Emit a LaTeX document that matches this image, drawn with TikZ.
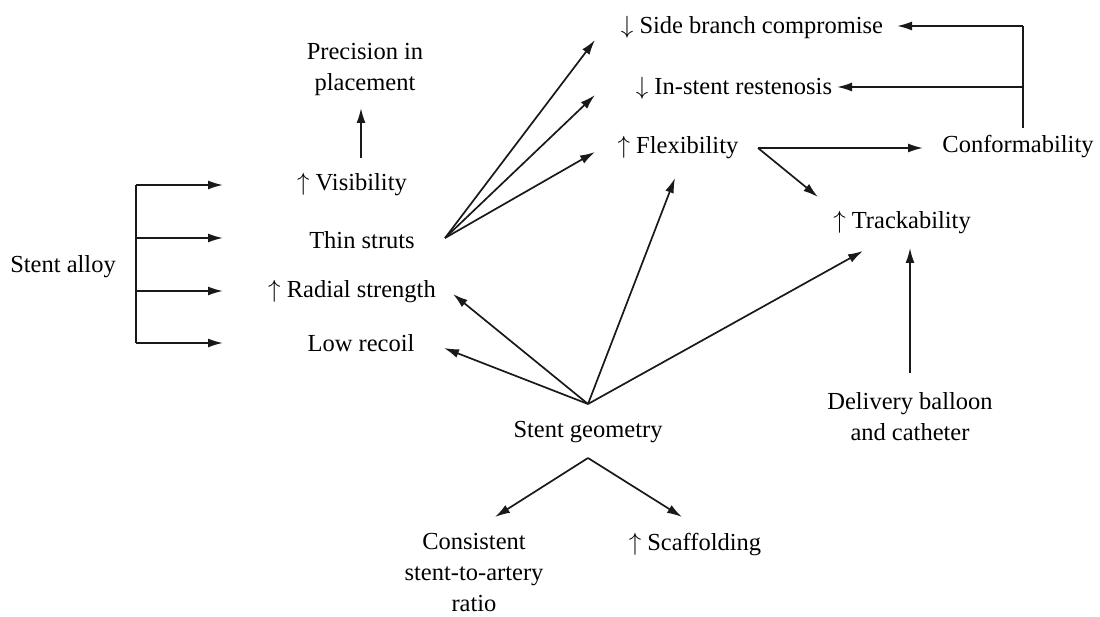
\documentclass[tikz,border=0pt]{standalone}
\usepackage{fontspec}
\setmainfont{Liberation Serif}
\usetikzlibrary{arrows.meta}
\begin{document}
\begin{tikzpicture}[x=1pt,y=-1pt,
  lbl/.style={inner sep=0pt,align=center,font=\fontsize{24.5}{31}\selectfont},
  con/.style={line width=1.7pt,black!90},
  arr/.style={con,-{Latex[length=15pt,width=9pt]}}]
\useasboundingbox (0,0) rectangle (1100,617);
% nodes
\node[lbl] (alloy)   at (63,267)  {Stent alloy};
\node[lbl] (vis)     at (352,185) {$\uparrow$ Visibility};
\node[lbl] (thin)    at (362,240) {Thin struts};
\node[lbl] (radial)  at (352,292) {$\uparrow$ Radial strength};
\node[lbl] (recoil)  at (361,343) {Low recoil};
\node[lbl] (prec)    at (365,70)  {Precision in\\placement};
\node[lbl] (side)    at (752,27)  {$\downarrow$ Side branch compromise};
\node[lbl] (instent) at (734,88)  {$\downarrow$ In-stent restenosis};
\node[lbl] (flex)    at (678,148) {$\uparrow$ Flexibility};
\node[lbl] (conf)    at (1018,147){Conformability};
\node[lbl] (track)   at (902,223) {$\uparrow$ Trackability};
\node[lbl] (deliv)   at (910,417) {Delivery balloon\\and catheter};
\node[lbl] (geom)    at (588,432) {Stent geometry};
\node[lbl] (consist) at (474,573) {Consistent\\stent-to-artery\\ratio};
\node[lbl] (scaff)   at (695,545) {$\uparrow$ Scaffolding};
% coordinates
\coordinate (bA) at (136,185); \coordinate (tA) at (223,185);
\coordinate (bB) at (136,238); \coordinate (tB) at (223,238);
\coordinate (bC) at (136,291); \coordinate (tC) at (223,291);
\coordinate (bD) at (136,343); \coordinate (tD) at (223,343);
\coordinate (visTop) at (361,158); \coordinate (precBot) at (361,108);
\coordinate (thinOut) at (445,238);
\coordinate (sideIn) at (595,40);
\coordinate (instIn) at (595,95);
\coordinate (flexIn) at (595,152);
\coordinate (geomTop) at (588,404);
\coordinate (recoilIn) at (444,348);
\coordinate (radialIn) at (453,294);
\coordinate (flexBot) at (675,178);
\coordinate (trackIn) at (863,251);
\coordinate (geomBot) at (588,458);
\coordinate (consIn) at (495,517);
\coordinate (scaffIn) at (682,517);
\coordinate (flexOut) at (758,148);
\coordinate (confIn) at (923,148);
\coordinate (trackTop) at (818,197);
\coordinate (confTop) at (1023,128);
\coordinate (confA) at (1023,26); \coordinate (sideOut) at (897,26);
\coordinate (confB) at (1023,87); \coordinate (instOut) at (837,87);
\coordinate (delivTop) at (910,373); \coordinate (trackBot) at (910,248);
% connectors
\draw[con] (bA) -- (bD);
\draw[arr] (bA) -- (tA);
\draw[arr] (bB) -- (tB);
\draw[arr] (bC) -- (tC);
\draw[arr] (bD) -- (tD);
\draw[arr] (visTop) -- (precBot);
\draw[arr] (thinOut) -- (sideIn);
\draw[arr] (thinOut) -- (instIn);
\draw[arr] (thinOut) -- (flexIn);
\draw[arr] (geomTop) -- (recoilIn);
\draw[arr] (geomTop) -- (radialIn);
\draw[arr] (geomTop) -- (flexBot);
\draw[arr] (geomTop) -- (trackIn);
\draw[arr] (geomBot) -- (consIn);
\draw[arr] (geomBot) -- (scaffIn);
\draw[arr] (flexOut) -- (confIn);
\draw[arr] (flexOut) -- (trackTop);
\draw[con] (confTop) -- (confA);
\draw[arr] (confA) -- (sideOut);
\draw[arr] (confB) -- (instOut);
\draw[arr] (delivTop) -- (trackBot);
\end{tikzpicture}
\end{document}
